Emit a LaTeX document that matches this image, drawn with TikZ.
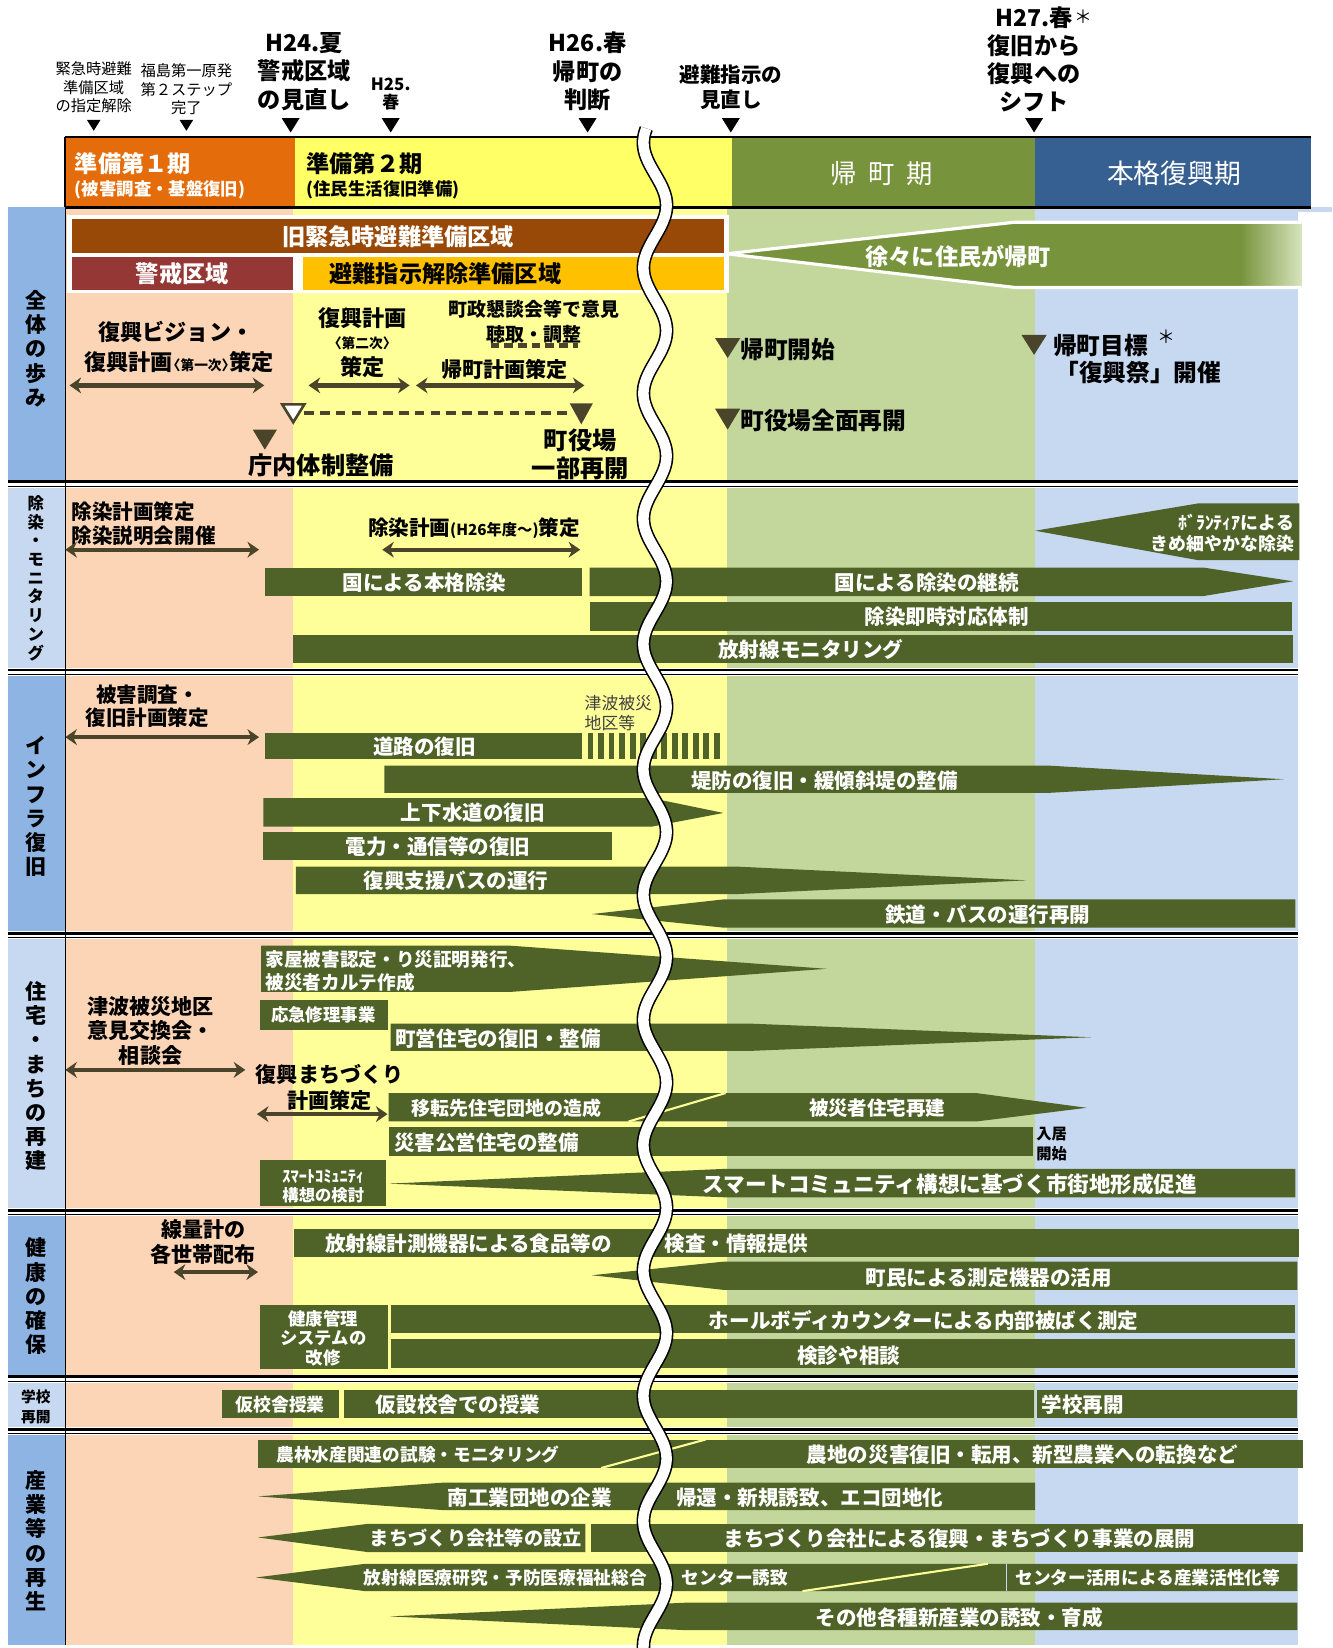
\documentclass[tikz,border=0pt]{standalone}
\usepackage{fontspec}
\setmainfont{Noto Sans CJK JP}
\usetikzlibrary{arrows.meta}
\newcommand\FS[2]{\fontsize{#1}{#2}\selectfont}
\newcommand\DTri[4]{\fill[#4] ({#1-#3/2},{#2-0.4*#3}) -- ({#1+#3/2},{#2-0.4*#3}) -- ({#1},{#2+0.4*#3}) -- cycle;}
\definecolor{hOrange}{HTML}{E46C0A}
\definecolor{hYellow}{HTML}{FFFF66}
\definecolor{hGreen}{HTML}{77933C}
\definecolor{hBlue}{HTML}{376092}
\definecolor{bPeach}{HTML}{FBD5B5}
\definecolor{bYellow}{HTML}{FFFF99}
\definecolor{bGreen}{HTML}{C3D69B}
\definecolor{bBlue}{HTML}{C6D9F1}
\definecolor{lDark}{HTML}{8DB4E2}
\definecolor{lLight}{HTML}{C6D9F1}
\definecolor{barG}{HTML}{4F6228}
\definecolor{arrC}{HTML}{4A452A}
\definecolor{zBrown}{HTML}{984807}
\definecolor{zRed}{HTML}{953735}
\definecolor{zGold}{HTML}{FFC000}
\definecolor{fadeG}{HTML}{D7E4BD}
\begin{document}
\begin{tikzpicture}[x=1pt,y=-1pt,
  wtxt/.style={text=white, font=\bfseries\FS{19.5}{23}, inner sep=0pt},
  btxt/.style={text=black, font=\bfseries\FS{20}{24}, inner sep=0pt},
  darr/.style={draw=arrC, line width=4pt, {Stealth[length=11pt,width=15pt]}-{Stealth[length=11pt,width=15pt]}},
  vlab/.style={text=black, font=\bfseries\FS{20}{23}, align=center, inner sep=0pt},
  toplab/.style={text=black, font=\FS{14.5}{17.5}, align=center, inner sep=0pt},
  bigtop/.style={text=black, font=\bfseries\FS{22}{27}, align=center, inner sep=0pt},
]
\useasboundingbox (0,0) rectangle (1265,1565);
\fill[white] (0,0) rectangle (1265,1565);

% ---------- body backgrounds ----------
\fill[bPeach] (62,197) rectangle (278,1562);
\fill[bYellow] (278,197) rectangle (690,1562);
\fill[bGreen] (690,197) rectangle (983,1562);
\fill[bBlue] (983,197) rectangle (1233,1562);
\fill[bBlue] (1233,197) rectangle (1265,201);

% label column
\fill[lDark]  (8,197)  rectangle (62,456);
\fill[lLight] (8,462)  rectangle (62,635);
\fill[lDark]  (8,641)  rectangle (62,885);
\fill[lLight] (8,891)  rectangle (62,1148);
\fill[lDark]  (8,1154) rectangle (62,1306);
\fill[lLight] (8,1312) rectangle (62,1356);
\fill[lDark]  (8,1362) rectangle (62,1562);

% separators
\foreach \yy in {459,638,888,1151,1309,1359}{
  \fill[white] (8,\yy-3.5) rectangle (1233,\yy+4);
  \draw[line width=2.6pt] (8,\yy-1.8) -- (1233,\yy-1.8);
  \draw[line width=1.1pt] (8,\yy+2.6) -- (1233,\yy+2.6);
}
\draw[line width=1.2pt] (62,197) -- (62,1562);

% ---------- header ----------
\fill[hOrange] (62,130) rectangle (280,197);
\fill[hYellow] (280,130) rectangle (695,197);
\fill[hGreen] (695,130) rectangle (983,197);
\fill[hBlue] (983,130) rectangle (1245,197);
\draw[line width=2.5pt] (62,130) -- (1245,130);
\draw[line width=2.5pt] (62,197) -- (1245,197);
\draw[line width=1.5pt] (62,130) -- (62,197);
\node[anchor=west, text=white, font=\bfseries\FS{22}{22}, inner sep=0pt] (h1a) at (71,155) {準備第１期};
\node[anchor=west, text=white, font=\bfseries\FS{16.5}{16.5}, inner sep=0pt] (h1b) at (71,180) {(被害調査・基盤復旧)};
\node[anchor=west, text=black, font=\bfseries\FS{22}{22}, inner sep=0pt] (h2a) at (291,155) {準備第２期};
\node[anchor=west, text=black, font=\bfseries\FS{16.5}{16.5}, inner sep=0pt] (h2b) at (291,180) {(住民生活復旧準備)};
\node[text=white, font=\FS{25}{25}, inner sep=0pt] (h3) at (837,165) {帰\hspace{0.45em}町\hspace{0.45em}期};
\node[text=white, font=\FS{25.5}{25.5}, inner sep=0pt] (h4) at (1115,165) {本格復興期};

% ---------- top labels ----------
\node[toplab] (t1) at (89,83) {緊急時避難\\準備区域\\の指定解除};
\node[toplab] (t2) at (177,85) {福島第一原発\\第２ステップ\\完了};
\node[bigtop] (t3) at (289,68) {H24.夏\\警戒区域\\の見直し};
\node[bigtop, font=\bfseries\FS{16}{17}] (t4) at (371,89.5) {H25.\\春};
\node[bigtop] (t5) at (558,68) {H26.春\\帰町の\\判断};
\node[bigtop, font=\bfseries\FS{19.5}{24}] (t6) at (694,83) {避難指示の\\見直し};
\node[bigtop, font=\bfseries\FS{22}{26.5}] (t7) at (982,56) {H27.春\\復旧から\\復興への\\シフト};
\node[text=black, font=\FS{17}{17}, inner sep=0pt] (t7s) at (1029,16) {＊};
\DTri{89}{119}{13}{black}
\DTri{177}{119}{13}{black}
\DTri{276}{119}{17}{black}
\DTri{371}{119}{17}{black}
\DTri{558}{119}{17}{black}
\DTri{694}{119}{17}{black}
\DTri{982}{119}{17}{black}

% ---------- row 1 : 全体の歩み ----------
\node[vlab] (L1) at (34,331) {全\\体\\の\\歩\\み};
\fill[white] (64,204) rectangle (692,278);
\fill[zBrown] (68,208) rectangle (688,240);
\fill[zRed] (68,244) rectangle (278,275);
\fill[zGold] (288,244) rectangle (688,275);
\node[text=white, font=\bfseries\FS{22}{22}, inner sep=0pt] (z1) at (378,225) {旧緊急時避難準備区域};
\node[text=white, font=\bfseries\FS{22}{22}, inner sep=0pt] (z2) at (173,260) {警戒区域};
\node[text=black, font=\bfseries\FS{22}{22}, inner sep=0pt] (z3) at (423,260) {避難指示解除準備区域};
\fill[hGreen] (690,241) -- (964,211) -- (1236,211) -- (1236,273) -- (964,273) -- cycle;
\shade[left color=hGreen, right color=fadeG] (1178,211) rectangle (1236,273);
\draw[white, line width=3pt, line join=miter] (690,241) -- (964,211) -- (1236,211) (1236,273) -- (964,273) -- (690,241);
\node[text=white, font=\bfseries\FS{22}{22}, inner sep=0pt] (z4) at (910,244) {徐々に住民が帰町};

\node[btxt, font=\bfseries\FS{21}{21}] (a1) at (167,315) {復興ビジョン・};
\node[btxt, font=\bfseries\FS{21}{21}] (a2) at (170,344) {復興計画{\FS{13}{13}\hspace{-0.45em}〈第一次〉\hspace{-0.45em}}策定};
\coordinate (a3l) at (66,366); \coordinate (a3r) at (251,366);
\draw[darr] (a3l) -- (a3r);
\node[btxt, font=\bfseries\FS{21}{21}] (b1) at (344,302) {復興計画};
\node[btxt, font=\bfseries\FS{13}{13}] (b2) at (344,326) {〈第二次〉};
\node[btxt, font=\bfseries\FS{21}{21}] (b3) at (344,349) {策定};
\coordinate (b4l) at (293,366); \coordinate (b4r) at (389,366);
\draw[darr] (b4l) -- (b4r);
\node[btxt, font=\bfseries\FS{18}{23}, align=center] (c1) at (507,305.5) {町政懇談会等で意見\\聴取・調整};
\coordinate (c2l) at (466,328); \coordinate (c2r) at (549,328);
\draw[arrC, line width=4pt, dash pattern=on 8pt off 5pt] (c2l) -- (c2r);
\node[btxt, font=\bfseries\FS{20}{20}] (c3) at (479,351) {帰町計画策定};
\coordinate (c4l) at (395,366); \coordinate (c4r) at (555,366);
\draw[darr] (c4l) -- (c4r);
\coordinate (d1) at (289,392); \coordinate (d2) at (543,392);
\draw[arrC, line width=4pt, dash pattern=on 9pt off 6pt] (d1) -- (d2);
\filldraw[fill=white, draw=arrC, line width=2.5pt, line join=miter] (268,384) -- (289,384) -- (278.5,401) -- cycle;
\fill[arrC] (541,383) -- (563,383) -- (552,403) -- cycle;
\fill[arrC] (240,408) -- (263,408) -- (251.5,427) -- cycle;
\node[btxt, font=\bfseries\FS{23}{23}] (e1) at (305,442) {庁内体制整備};
\node[btxt, font=\bfseries\FS{23}{27}, align=center] (e2) at (551,431.5) {町役場\\一部再開};
\fill[arrC] (679,321) -- (703,321) -- (691,340) -- cycle;
\node[btxt, font=\bfseries\FS{22.5}{22.5}, anchor=west] (f1) at (703,332) {帰町開始};
\fill[arrC] (679,388) -- (703,388) -- (691,408) -- cycle;
\node[btxt, font=\bfseries\FS{22.5}{22.5}, anchor=west] (f2) at (703,399) {町役場全面再開};
\fill[arrC] (970,318) -- (994,318) -- (982,337) -- cycle;
\node[btxt, font=\bfseries\FS{22.5}{22.5}, anchor=west] (g1) at (1000,328) {帰町目標};
\node[text=black, font=\FS{17}{17}, inner sep=0pt] (g2) at (1108,320) {＊};
\node[btxt, font=\bfseries\FS{22.5}{22.5}] (g3) at (1081,354) {「復興祭」開催};

% ---------- row 2 : 除染・モニタリング ----------
\node[vlab, font=\bfseries\FS{15.5}{17.75}] (L2) at (34,549) {除\\染\\・\\モ\\ニ\\タ\\リ\\ン\\グ};
\node[btxt, font=\bfseries\FS{19.5}{22.5}, align=left, anchor=west] (m1) at (68,497) {除染計画策定\\除染説明会開催};
\coordinate (m2l) at (62,522); \coordinate (m2r) at (246,522);
\draw[darr] (m2l) -- (m2r);
\node[btxt, font=\bfseries\FS{19.5}{19.5}] (m3) at (450,502) {除染計画{\FS{14.5}{14.5}(H26年度～)}策定};
\coordinate (m4l) at (363,522); \coordinate (m4r) at (551,522);
\draw[darr] (m4l) -- (m4r);
\fill[barG] (252,539) rectangle (553,566);
\node[wtxt] (m5) at (403,553) {国による本格除染};
\fill[barG] (560,539) -- (1143,539) -- (1228,552) -- (1143,566) -- (560,566) -- cycle;
\node[wtxt] (m6) at (880,553) {国による除染の継続};
\fill[barG] (560,572) rectangle (1227,599);
\node[wtxt] (m7) at (899,586) {除染即時対応体制};
\fill[barG] (278,603) rectangle (1228,630);
\node[wtxt] (m8) at (770,617) {放射線モニタリング};
\fill[barG] (983,504) -- (1138,478) -- (1234,478) -- (1234,532) -- (1138,532) -- cycle;
\node[wtxt, font=\bfseries\FS{17}{20}, align=right, anchor=east] (m9) at (1229,506) {ﾎﾞﾗﾝﾃｨｱによる\\きめ細やかな除染};

% ---------- row 3 : インフラ復旧 ----------
\node[vlab] (L3) at (34,766) {イ\\ン\\フ\\ラ\\復\\旧};
\node[btxt, font=\bfseries\FS{19.5}{22}, align=center] (i1) at (140,670.5) {被害調査・\\復旧計画策定};
\coordinate (i2l) at (62,700); \coordinate (i2r) at (246,700);
\draw[darr] (i2l) -- (i2r);
\fill[barG] (252,696) rectangle (553,721);
\node[wtxt] (i3) at (403,709) {道路の復旧};
\foreach \k in {0,...,12}{ \fill[barG] (558+10*\k,696) rectangle (563.5+10*\k,721); }
\node[text=black!75, font=\FS{16}{19}, align=left, anchor=west, inner sep=0pt] (i4) at (555,677.5) {津波被災\\地区等};
\fill[barG] (365,727) -- (995,727) -- (1219,740) -- (995,753) -- (365,753) -- cycle;
\node[wtxt] (i5) at (783,741) {堤防の復旧・緩傾斜堤の整備};
\fill[barG] (250,758) -- (619,758) -- (687,772) -- (619,785) -- (250,785) -- cycle;
\node[wtxt] (i6) at (449,772) {上下水道の復旧};
\fill[barG] (250,790) rectangle (581,817);
\node[wtxt] (i7) at (416,804) {電力・通信等の復旧};
\fill[barG] (281,823) -- (701,823) -- (975,836) -- (701,849) -- (281,849) -- cycle;
\node[wtxt] (i8) at (433,836) {復興支援バスの運行};
\fill[barG] (562,868) -- (688,854) -- (1230,854) -- (1230,881) -- (688,881) -- cycle;
\node[wtxt] (i9) at (938,869) {鉄道・バスの運行再開};

% ---------- row 4 : 住宅・まちの再建 ----------
\node[vlab] (L4) at (34,1022) {住\\宅\\・\\ま\\ち\\の\\再\\建};
\node[btxt, font=\bfseries\FS{20}{23.5}, align=center] (s1) at (143,979) {津波被災地区\\意見交換会・\\相談会};
\coordinate (s2l) at (62,1016); \coordinate (s2r) at (233,1016);
\draw[darr] (s2l) -- (s2r);
\fill[barG] (248,898) -- (484,898) -- (785,920) -- (484,942) -- (248,942) -- cycle;
\node[wtxt, font=\bfseries\FS{17.7}{21.5}, align=left, anchor=west] (s3) at (252,922) {家屋被害認定・り災証明発行、\\被災者カルテ作成};
\fill[barG] (247,950) rectangle (368,978);
\node[wtxt, font=\bfseries\FS{16.5}{16.5}] (s4) at (307,964) {応急修理事業};
\fill[barG] (371,972) -- (711,972) -- (1036,985) -- (711,998) -- (371,998) -- cycle;
\node[wtxt] (s5) at (473,986) {町営住宅の復旧・整備};
\node[btxt, font=\bfseries\FS{20}{25}, align=center] (s6) at (313,1032.5) {復興まちづくり\\計画策定};
\coordinate (s7l) at (244,1058); \coordinate (s7r) at (368,1058);
\draw[darr] (s7l) -- (s7r);
\fill[barG] (369,1038) -- (927,1038) -- (1032,1052) -- (927,1065) -- (369,1065) -- cycle;
\draw[bYellow, line width=2pt] (597,1065) -- (689,1038);
\node[wtxt, font=\bfseries\FS{18}{18}] (s8) at (481,1052) {移転先住宅団地の造成};
\node[wtxt, font=\bfseries\FS{18.5}{18.5}] (s9) at (833,1052) {被災者住宅再建};
\fill[barG] (369,1070) rectangle (981,1098);
\node[wtxt] (s10) at (462,1085) {災害公営住宅の整備};
\node[btxt, font=\bfseries\FS{14.5}{19}, align=left, anchor=west] (s11) at (984,1086.5) {入居\\開始};
\fill[barG] (247,1102) rectangle (367,1145);
\node[wtxt, font=\bfseries\FS{15.5}{18}, align=center] (s12) at (307,1126.5) {ｽﾏｰﾄｺﾐｭﾆﾃｨ\\構想の検討};
\fill[barG] (369,1124) -- (688,1110) -- (1230,1110) -- (1230,1137) -- (688,1137) -- cycle;
\node[wtxt, font=\bfseries\FS{20.5}{20.5}] (s13) at (902,1125) {スマートコミュニティ構想に基づく市街地形成促進};

% ---------- row 5 : 健康の確保 ----------
\node[vlab] (L5) at (34,1231) {健\\康\\の\\確\\保};
\node[btxt, font=\bfseries\FS{20}{23}, align=center] (k1) at (193,1179.5) {線量計の\\各世帯配布};
\coordinate (k2l) at (165,1208); \coordinate (k2r) at (245,1208);
\draw[darr] (k2l) -- (k2r);
\fill[barG] (279,1167) rectangle (1234,1194);
\node[wtxt] (k3) at (445,1181) {放射線計測機器による食品等の};
\node[wtxt, anchor=west] (k4) at (631,1181) {検査・情報提供};
\fill[barG] (562,1211) -- (688,1198) -- (1232,1198) -- (1232,1225) -- (688,1225) -- cycle;
\node[wtxt] (k5) at (939,1213) {町民による測定機器の活用};
\fill[barG] (247,1239) rectangle (368,1300);
\node[wtxt, font=\bfseries\FS{16.5}{18.5}, align=center] (k6) at (307,1270.5) {健康管理\\システムの\\改修};
\fill[barG] (371,1239) rectangle (1230,1266);
\node[wtxt] (k7) at (877,1254) {ホールボディカウンターによる内部被ばく測定};
\fill[barG] (371,1272) rectangle (1230,1299);
\node[wtxt] (k8) at (806,1287) {検診や相談};

% ---------- row 6 : 学校再開 ----------
\node[vlab, font=\bfseries\FS{14}{19}] (L6) at (34,1336) {学校\\再開};
\fill[barG] (211,1320) rectangle (322,1347);
\node[wtxt, font=\bfseries\FS{17}{17}] (g61) at (266,1334) {仮校舎授業};
\fill[barG] (327,1320) rectangle (982,1347);
\node[wtxt] (g62) at (435,1334) {仮設校舎での授業};
\fill[barG] (985,1320) rectangle (1232,1347);
\node[wtxt, anchor=west] (g63) at (989,1334) {学校再開};

% ---------- row 7 : 産業等の再生 ----------
\node[vlab] (L7) at (34,1463) {産\\業\\等\\の\\再\\生};
\fill[barG] (245,1367) rectangle (1237,1394);
\draw[bYellow, line width=2pt] (571,1394) -- (670,1367);
\node[wtxt, font=\bfseries\FS{16.8}{16.8}] (p1) at (397,1381) {農林水産関連の試験・モニタリング};
\node[wtxt] (p2) at (971,1381) {農地の災害復旧・転用、新型農業への転換など};
\fill[barG] (245,1421) -- (420,1408) -- (983,1408) -- (983,1434) -- (420,1434) -- cycle;
\node[wtxt] (p3) at (503,1422) {南工業団地の企業};
\node[wtxt] (p4) at (769,1422) {帰還・新規誘致、エコ団地化};
\fill[barG] (245,1460) -- (350,1447) -- (556,1447) -- (556,1474) -- (350,1474) -- cycle;
\node[wtxt, font=\bfseries\FS{18.3}{18.3}] (p5) at (452,1461) {まちづくり会社等の設立};
\fill[barG] (561,1447) rectangle (1237,1474);
\node[wtxt] (p6) at (911,1461) {まちづくり会社による復興・まちづくり事業の展開};
\fill[barG] (243,1498) -- (347,1485) -- (1232,1485) -- (1232,1511) -- (347,1511) -- cycle;
\draw[bYellow, line width=2pt] (762,1511) -- (938,1485);
\draw[bBlue, line width=1.2pt] (956,1485) -- (956,1511);
\node[wtxt, font=\bfseries\FS{16.8}{16.8}] (p7) at (480,1498) {放射線医療研究・予防医療福祉総合};
\node[wtxt, font=\bfseries\FS{16.8}{16.8}] (p8) at (698,1498) {センター誘致};
\node[wtxt, font=\bfseries\FS{16.8}{16.8}] (p9) at (1090,1498) {センター活用による産業活性化等};
\fill[barG] (370,1535) -- (650,1522) -- (1232,1522) -- (1232,1548) -- (650,1548) -- cycle;
\node[wtxt] (p10) at (911,1536) {その他各種新産業の誘致・育成};

% ---------- wavy break ----------
\draw[line width=13pt, black] plot[smooth, samples=260, domain=122:1565] ({622+11*cos(3.02521*(\x-195))},\x);
\draw[line width=10pt, white] plot[smooth, samples=260, domain=122:1565] ({622+11*cos(3.02521*(\x-195))},\x);
\end{tikzpicture}
\end{document}
